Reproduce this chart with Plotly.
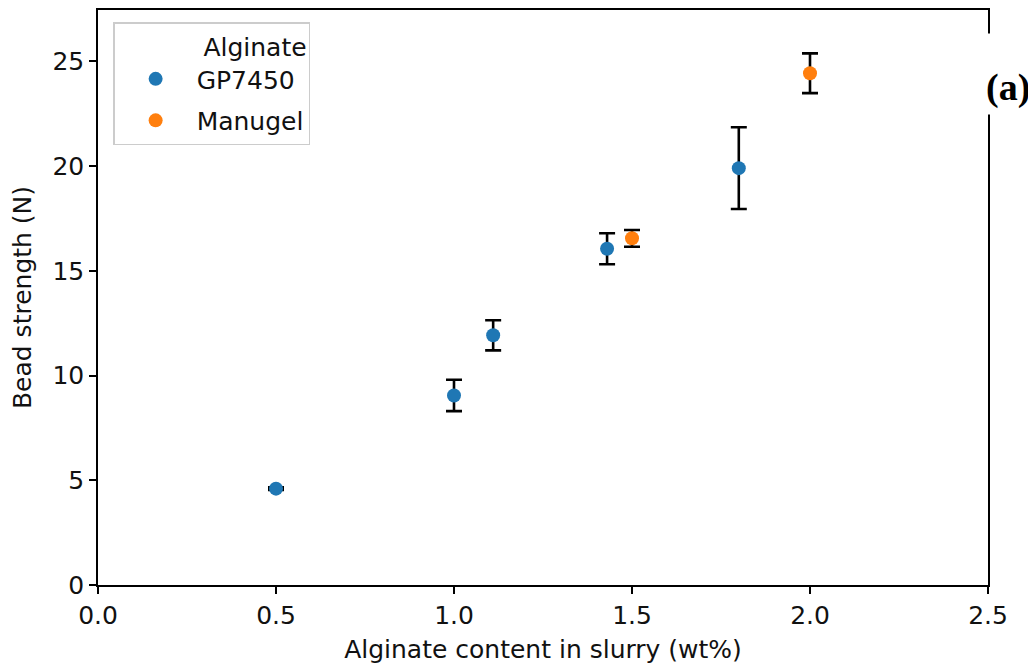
import plotly.graph_objects as go

# Data
gp_x = [0.5, 1.0, 1.11, 1.43, 1.8]
gp_y = [4.6, 9.05, 11.92, 16.05, 19.9]
gp_err = [0.06, 0.75, 0.72, 0.74, 1.95]

mg_x = [1.5, 2.0]
mg_y = [16.55, 24.43]
mg_err = [0.4, 0.95]

x_ticks = [0.0, 0.5, 1.0, 1.5, 2.0, 2.5]
x_ticklabels = ["0.0", "0.5", "1.0", "1.5", "2.0", "2.5"]
y_ticks = [0, 5, 10, 15, 20, 25]

FONT = "DejaVu Sans"
FS = 25

fig = go.Figure()
for name, xs, ys, es, col in [("GP7450", gp_x, gp_y, gp_err, "#1f77b4"),
                              ("Manugel", mg_x, mg_y, mg_err, "#ff7f0e")]:
    fig.add_trace(go.Scatter(
        x=xs, y=ys, mode="markers", name=name, legendgroup=name,
        marker=dict(color=col, size=14),
        error_y=dict(type="data", array=es, visible=True, color="black",
                     thickness=2.6, width=8),
    ))

axis_common = dict(
    showgrid=False, zeroline=False, showline=True, linecolor="black",
    linewidth=1.5, mirror=True, ticks="outside", ticklen=7, tickwidth=1.5,
    tickcolor="black", tickfont=dict(family=FONT, size=FS, color="#111"),
    automargin=False,
)

fig.update_xaxes(range=[0, 2.5], tickvals=x_ticks, ticktext=x_ticklabels,
                 title=dict(text="Alginate content in slurry (wt%)",
                            font=dict(family=FONT, size=FS, color="#111"), standoff=12),
                 **axis_common)
fig.update_yaxes(range=[0, 27.45], tickvals=y_ticks,
                 title=dict(text="Bead strength (N)",
                            font=dict(family=FONT, size=FS, color="#111"), standoff=15),
                 **axis_common)

# white patch interrupting the right spine behind the panel label
fig.add_annotation(
    x=1.0, y=0.8887, xref="paper", yref="paper", xanchor="center", yanchor="middle",
    xshift=20, text=" ", showarrow=False, width=56, height=80,
    bgcolor="white", borderpad=0,
)
fig.add_annotation(
    x=1.0, y=0.866, xref="paper", yref="paper", xanchor="center", yanchor="middle",
    xshift=20,
    text="<b>(a)</b>", showarrow=False,
    font=dict(family="Liberation Serif", size=38, color="black"),
)

fig.update_layout(
    width=1028, height=662,
    margin=dict(l=90, r=48, t=2, b=85),
    paper_bgcolor="white", plot_bgcolor="white",
    showlegend=True,
    legend=dict(
        x=0.017, y=0.979, xanchor="left", yanchor="top",
        bgcolor="white", bordercolor="#cccccc", borderwidth=1.5,
        font=dict(family=FONT, size=FS, color="#111"),
        title=dict(text="Alginate", side="top right",
                   font=dict(family=FONT, size=FS, color="#111")),
        itemsizing="trace", itemwidth=72, tracegroupgap=6,
    ),
)

fig.write_html("out.html")
